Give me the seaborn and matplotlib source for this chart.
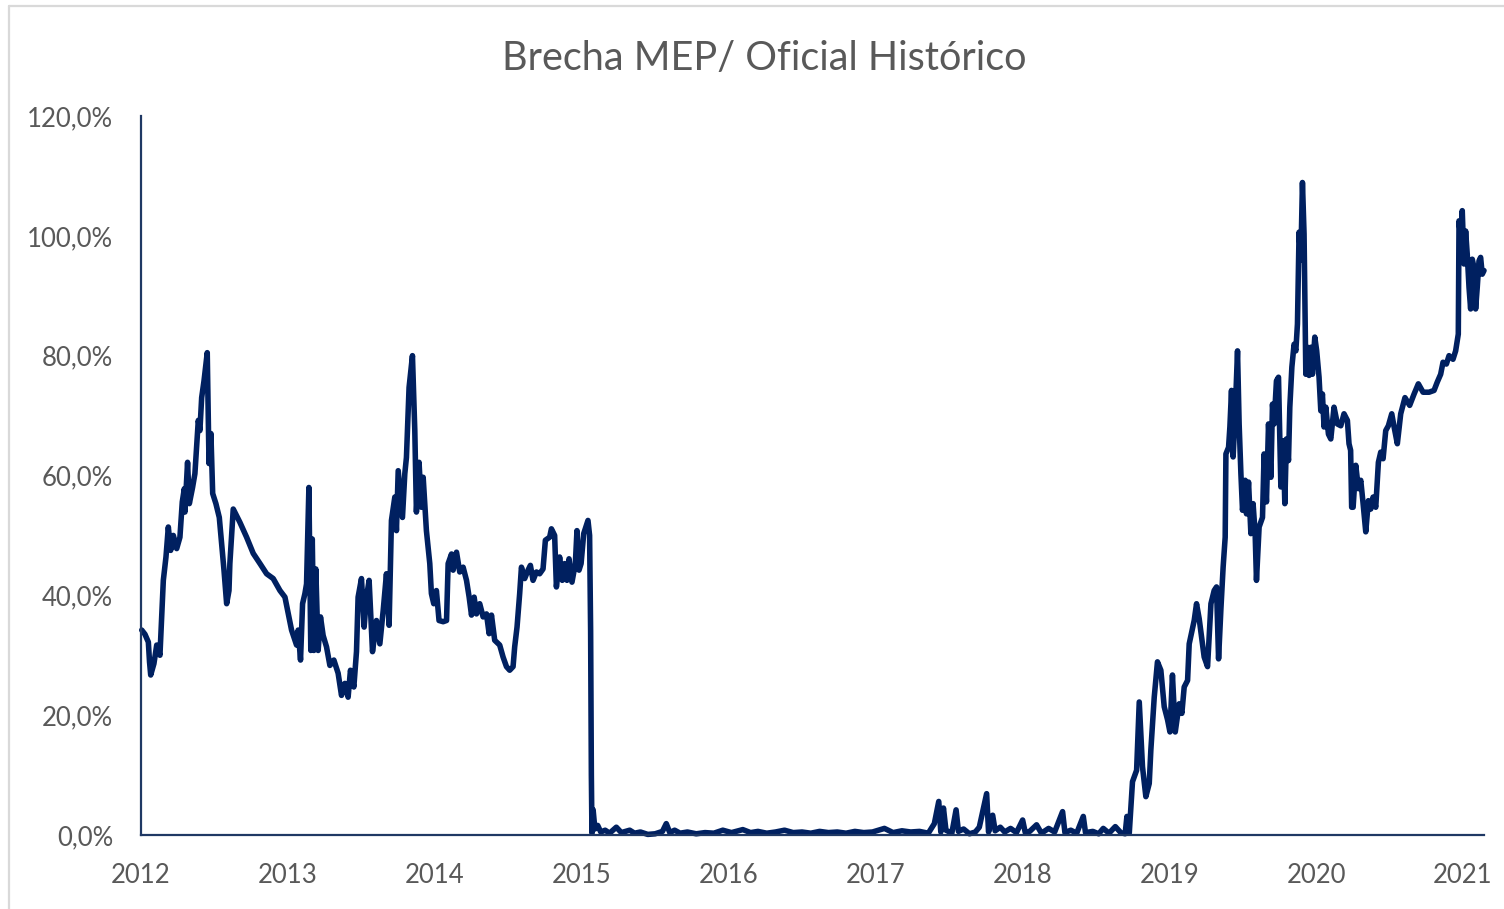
import matplotlib
matplotlib.use("Agg")
import matplotlib.pyplot as plt
from matplotlib.lines import Line2D
import seaborn as sns
import pandas as pd

# ---- data (decimal year, gap in %) ----
fecha = [
    2012.005, 2012.027, 2012.050, 2012.058, 2012.066, 2012.088, 2012.107, 2012.129, 2012.141, 2012.152,
    2012.170, 2012.186, 2012.202, 2012.220, 2012.243, 2012.265, 2012.281, 2012.295, 2012.299, 2012.317,
    2012.329, 2012.351, 2012.367, 2012.390, 2012.401, 2012.413, 2012.429, 2012.451, 2012.463, 2012.476,
    2012.488, 2012.510, 2012.533, 2012.549, 2012.565, 2012.583, 2012.599, 2012.605, 2012.628, 2012.673,
    2012.719, 2012.764, 2012.810, 2012.855, 2012.900, 2012.946, 2012.980, 2013.002, 2013.025, 2013.059,
    2013.070, 2013.086, 2013.100, 2013.116, 2013.127, 2013.143, 2013.156, 2013.166, 2013.177, 2013.190,
    2013.206, 2013.222, 2013.240, 2013.263, 2013.286, 2013.313, 2013.342, 2013.365, 2013.388, 2013.410,
    2013.426, 2013.449, 2013.467, 2013.478, 2013.501, 2013.519, 2013.535, 2013.553, 2013.576, 2013.603,
    2013.626, 2013.649, 2013.671, 2013.689, 2013.705, 2013.728, 2013.739, 2013.751, 2013.780, 2013.796,
    2013.807, 2013.825, 2013.848, 2013.864, 2013.875, 2013.893, 2013.909, 2013.921, 2013.943, 2013.966,
    2013.977, 2013.993, 2014.011, 2014.029, 2014.057, 2014.080, 2014.091, 2014.114, 2014.125, 2014.148,
    2014.170, 2014.193, 2014.216, 2014.234, 2014.250, 2014.268, 2014.284, 2014.306, 2014.329, 2014.352,
    2014.370, 2014.386, 2014.408, 2014.442, 2014.465, 2014.488, 2014.510, 2014.533, 2014.544, 2014.560,
    2014.578, 2014.590, 2014.612, 2014.635, 2014.651, 2014.669, 2014.692, 2014.714, 2014.737, 2014.753,
    2014.782, 2014.794, 2014.816, 2014.828, 2014.850, 2014.868, 2014.884, 2014.900, 2014.914, 2014.934,
    2014.957, 2014.968, 2014.982, 2014.996, 2015.014, 2015.043, 2015.054, 2015.061, 2015.066,
    2015.070, 2015.078, 2015.090, 2015.109, 2015.130, 2015.160, 2015.190, 2015.236, 2015.270, 2015.327,
    2015.360, 2015.400, 2015.450, 2015.500, 2015.550, 2015.576, 2015.600, 2015.633, 2015.670, 2015.720,
    2015.780, 2015.840, 2015.900, 2015.961, 2016.020, 2016.097, 2016.150, 2016.200, 2016.260, 2016.320,
    2016.381, 2016.440, 2016.500, 2016.560, 2016.620, 2016.680, 2016.740, 2016.800, 2016.860, 2016.920,
    2016.980, 2017.061, 2017.120, 2017.180, 2017.240, 2017.300, 2017.360, 2017.401, 2017.431, 2017.445,
    2017.463, 2017.480, 2017.520, 2017.549, 2017.565, 2017.600, 2017.640, 2017.680, 2017.707, 2017.757,
    2017.770, 2017.798, 2017.815, 2017.850, 2017.880, 2017.920, 2017.960, 2018.002, 2018.020, 2018.050,
    2018.097, 2018.130, 2018.179, 2018.220, 2018.274, 2018.290, 2018.330, 2018.370, 2018.415, 2018.430,
    2018.480, 2018.520, 2018.551, 2018.590, 2018.633, 2018.670, 2018.700, 2018.712, 2018.728,
    2018.750, 2018.778, 2018.796, 2018.818, 2018.841, 2018.864, 2018.875, 2018.898, 2018.920, 2018.943,
    2018.966, 2018.989, 2019.005, 2019.022, 2019.041, 2019.068, 2019.086, 2019.102, 2019.125, 2019.136,
    2019.170, 2019.186, 2019.204, 2019.238, 2019.261, 2019.284, 2019.306, 2019.322, 2019.336, 2019.352,
    2019.367, 2019.381, 2019.386, 2019.404, 2019.413, 2019.424, 2019.435, 2019.449, 2019.465, 2019.476,
    2019.488, 2019.499, 2019.517, 2019.526, 2019.540, 2019.556, 2019.571, 2019.585, 2019.594, 2019.612,
    2019.635, 2019.646, 2019.662, 2019.676, 2019.692, 2019.703, 2019.714, 2019.730, 2019.744, 2019.760,
    2019.776, 2019.787, 2019.798, 2019.812, 2019.821, 2019.835, 2019.850, 2019.862, 2019.873, 2019.884,
    2019.896, 2019.907, 2019.918, 2019.930, 2019.941, 2019.952, 2019.964, 2019.975, 2019.991, 2020.004,
    2020.020, 2020.032, 2020.043, 2020.054, 2020.066, 2020.084, 2020.100, 2020.122, 2020.145, 2020.168,
    2020.190, 2020.213, 2020.224, 2020.235, 2020.242, 2020.252, 2020.270, 2020.288, 2020.304, 2020.320,
    2020.338, 2020.356, 2020.372, 2020.388, 2020.406, 2020.424, 2020.440, 2020.456, 2020.474, 2020.492,
    2020.515, 2020.531, 2020.553, 2020.576, 2020.605, 2020.637, 2020.667, 2020.696, 2020.728, 2020.769,
    2020.803, 2020.825, 2020.848, 2020.864, 2020.887, 2020.905, 2020.932, 2020.950, 2020.968, 2020.973,
    2020.984, 2020.995, 2021.007, 2021.018, 2021.029, 2021.041, 2021.052, 2021.063, 2021.075, 2021.086,
    2021.097, 2021.109, 2021.120, 2021.131, 2021.143,
]

brecha = [
    34.2, 33.5, 32.2, 28.9, 26.7, 28.6, 31.7, 30.0, 36.4, 42.5,
    46.4, 51.4, 47.5, 50.0, 47.8, 49.7, 55.6, 57.8, 53.9, 62.2,
    55.3, 58.0, 60.3, 69.2, 67.5, 73.0, 75.8, 80.5, 62.0, 67.0,
    57.0, 55.3, 53.0, 48.6, 44.2, 38.6, 40.8, 45.3, 54.4, 52.2,
    49.7, 47.0, 45.3, 43.6, 42.8, 40.8, 39.7, 37.0, 34.2, 31.7,
    34.2, 29.2, 38.6, 40.3, 41.9, 58.0, 30.8, 49.4, 30.8, 44.4,
    30.8, 36.4, 33.3, 31.4, 28.3, 29.2, 27.0, 23.3, 25.3, 23.0,
    27.5, 24.7, 30.6, 39.7, 42.8, 34.7, 39.7, 42.5, 30.6, 35.8,
    31.9, 37.5, 43.6, 35.0, 52.5, 56.4, 50.8, 60.8, 53.0, 60.3,
    63.0, 74.7, 80.0, 67.5, 53.9, 62.2, 54.7, 59.7, 50.8, 45.3,
    40.3, 38.6, 40.8, 35.8, 35.6, 35.8, 45.3, 46.9, 44.2, 47.2,
    43.9, 44.7, 42.5, 39.7, 36.7, 39.7, 36.9, 38.6, 36.4, 36.9,
    33.6, 36.7, 32.5, 31.7, 29.7, 28.1, 27.5, 28.1, 31.4, 34.7,
    40.3, 44.7, 42.8, 44.2, 45.0, 42.5, 43.9, 43.6, 44.4, 49.2,
    49.7, 51.1, 50.0, 41.4, 46.4, 42.5, 45.3, 42.5, 46.1, 42.2,
    45.3, 50.8, 44.2, 45.3, 50.3, 52.5, 50.0, 34.0, 10.0,
    0.3, 4.2, 1.0, 1.6, 0.5, 0.8, 0.3, 1.3, 0.4, 0.8,
    0.3, 0.5, 0.1, 0.2, 0.6, 1.9, 0.4, 0.8, 0.3, 0.5,
    0.2, 0.4, 0.3, 0.8, 0.4, 0.9, 0.4, 0.6, 0.3, 0.5,
    0.8, 0.4, 0.5, 0.3, 0.6, 0.4, 0.5, 0.3, 0.6, 0.4,
    0.5, 1.1, 0.4, 0.7, 0.5, 0.6, 0.3, 1.9, 5.6, 0.5,
    4.5, 0.8, 0.3, 4.2, 0.6, 1.0, 0.2, 0.5, 1.3, 6.9,
    0.5, 3.3, 0.7, 1.3, 0.5, 1.1, 0.4, 2.5, 0.4, 0.6,
    1.7, 0.3, 1.1, 0.5, 3.9, 0.4, 0.8, 0.3, 3.1, 0.4,
    0.6, 0.2, 1.1, 0.3, 1.4, 0.4, 0.2, 3.1, 0.3,
    8.9, 10.8, 22.2, 11.4, 6.4, 8.6, 14.2, 23.0, 28.9, 27.5,
    21.4, 19.2, 17.2, 26.7, 17.2, 21.9, 20.3, 24.7, 25.8, 31.9,
    35.8, 38.6, 36.1, 29.7, 28.1, 38.6, 40.8, 41.4, 29.4, 37.8,
    44.7, 49.7, 63.6, 64.7, 68.1, 74.2, 63.1, 70.3, 80.8, 68.6,
    60.3, 54.2, 59.2, 53.6, 58.9, 50.3, 55.3, 50.3, 42.5, 51.4,
    53.0, 63.6, 55.6, 68.6, 59.7, 71.9, 68.6, 75.8, 76.4, 58.1,
    65.8, 55.3, 66.1, 62.5, 71.4, 78.1, 81.9, 80.8, 85.3, 100.6,
    96.0, 108.9, 100.3, 76.9, 81.4, 76.7, 81.4, 76.9, 83.1, 80.8,
    76.4, 70.8, 73.6, 68.1, 71.4, 66.9, 66.1, 71.4, 68.6, 68.3,
    70.3, 69.2, 65.3, 64.2, 54.7, 54.7, 61.7, 57.8, 59.2, 55.3,
    50.6, 55.8, 54.4, 56.4, 54.7, 62.2, 63.9, 62.8, 67.5, 68.3,
    70.3, 68.1, 65.3, 70.3, 73.0, 71.7, 73.6, 75.3, 73.9, 73.9,
    74.2, 75.6, 76.9, 78.9, 78.6, 80.0, 79.4, 80.8, 83.6, 102.5,
    99.7, 104.2, 95.3, 100.8, 96.9, 91.4, 87.8, 96.1, 94.7, 87.8,
    91.4, 95.8, 96.4, 93.6, 94.2,
]

x_ticks = [2012, 2013, 2014, 2015, 2016, 2017, 2018, 2019, 2020, 2021]
x_labels = ["2012", "2013", "2014", "2015", "2016", "2017", "2018", "2019", "2020", "2021"]
y_ticks = [0, 20, 40, 60, 80, 100, 120]
y_labels = ["0,0%", "20,0%", "40,0%", "60,0%", "80,0%", "100,0%", "120,0%"]
title = "Brecha MEP/ Oficial Histórico"

df = pd.DataFrame({"fecha": fecha, "brecha": brecha})

sns.set_theme(style="white")
plt.rcParams["font.family"] = ["Lato", "DejaVu Sans"]

W, H = 1504, 909
fig = plt.figure(figsize=(W / 100, H / 100), dpi=100)
fig.patch.set_facecolor("white")
ax = fig.add_axes([141 / W, (H - 835) / H, (1484 - 141) / W, (835 - 116) / H])

LINE = "#002060"
AXC = "#1F3864"
TXT = "#595959"

sns.lineplot(data=df, x="fecha", y="brecha", ax=ax, color=LINE, linewidth=4.0,
             estimator=None, sort=False, clip_on=False)

ax.set_xlim(2012, 2021.143)
ax.set_ylim(0, 120)
ax.set_xticks(x_ticks)
ax.set_xticklabels(x_labels)
ax.set_yticks(y_ticks)
ax.set_yticklabels(y_labels)
ax.set_xlabel("")
ax.set_ylabel("")

for s in ["top", "right"]:
    ax.spines[s].set_visible(False)
for s in ["left", "bottom"]:
    ax.spines[s].set_color(AXC)
    ax.spines[s].set_linewidth(1.6)

ax.tick_params(axis="x", which="both", direction="out", length=5.5, width=1.6,
               color=AXC, labelcolor=TXT, labelsize=18.5, pad=14.5)
ax.tick_params(axis="y", which="both", length=0, labelcolor=TXT, labelsize=18.5, pad=20)
ax.grid(False)

fig.text(764 / W, 1 - 58 / H, title, ha="center", va="center", fontsize=28.5, color=TXT)

# light grey chart-area frame (left and top edges visible)
bx, by = 9 / W, 1 - 6 / H
fig.add_artist(Line2D([bx, bx], [0, by], transform=fig.transFigure, color="#D9D9D9", lw=1.6))
fig.add_artist(Line2D([bx, 1.0], [by, by], transform=fig.transFigure, color="#D9D9D9", lw=1.6))

fig.savefig("out.png", dpi=100, facecolor="white")
